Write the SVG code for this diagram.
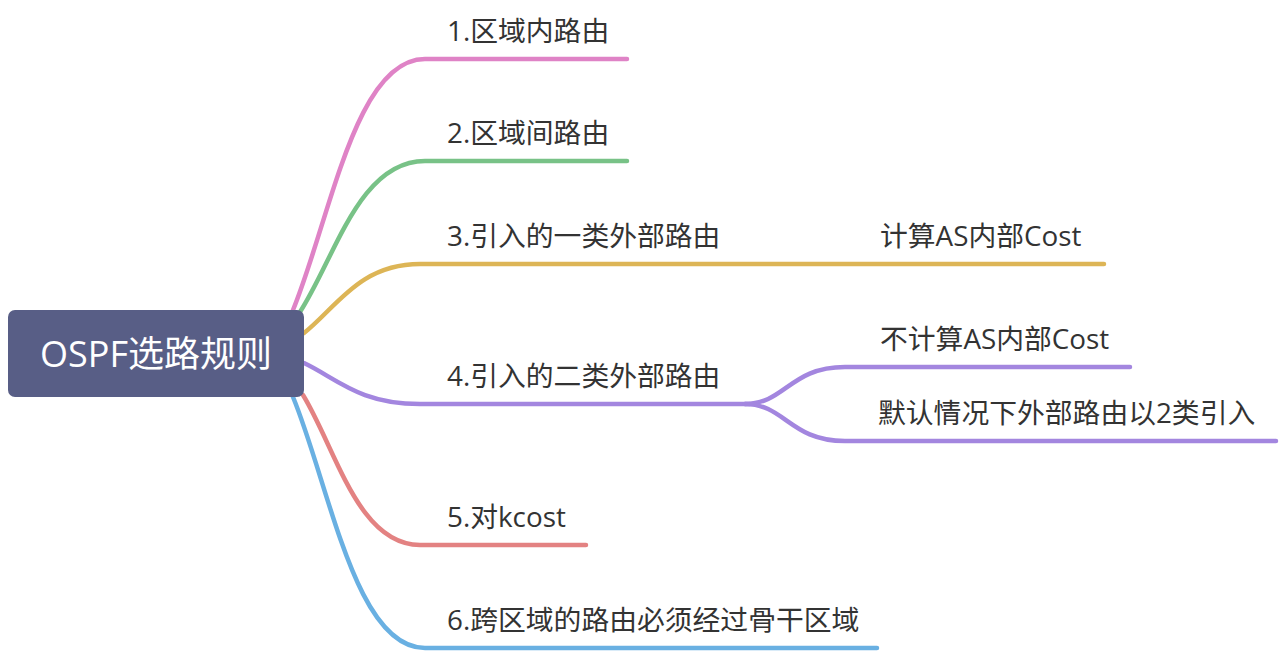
<svg xmlns="http://www.w3.org/2000/svg" width="1282" height="652" viewBox="0 0 1282 652">
<style>
.t{font-family:"Open Sans","Noto Sans CJK SC",sans-serif;font-size:27.8px;fill:#333333}
.r{font-family:"Open Sans","Noto Sans CJK SC",sans-serif;font-size:36px;fill:#ffffff;text-anchor:middle}
.c{fill:none;stroke-width:4.5;stroke-linecap:round;stroke-linejoin:round}
</style>
<rect width="1282" height="652" fill="#ffffff"/>
<g id="connectors">
<path class="c" stroke="#DF83C6" d="M293,310 C330,220 355,59 425,59 L627,59"/>
<path class="c" stroke="#78C287" d="M300,312 C335,258 359,161 425,161 L627,161"/>
<path class="c" stroke="#DDB556" d="M304,333 C336,308 359,264 420,264 L1104,264"/>
<path class="c" stroke="#A386DF" d="M304,363 C336,378 359,404 420,404 L750,404"/>
<path class="c" stroke="#A386DF" d="M745,404 C785,404 790,367 845,367 L1130,367"/>
<path class="c" stroke="#A386DF" d="M745,404 C785,404 790,441 845,441 L1276,441"/>
<path class="c" stroke="#E38282" d="M303,395 C336,449 358,545 420,545 L586,545"/>
<path class="c" stroke="#69B0E2" d="M293,397 C330,487 355,648 425,648 L877,648"/>
</g>
<g id="root">
<rect x="8" y="310" width="296" height="87" rx="7" ry="7" fill="#585E86"/>
<text class="r" x="156" y="367">OSPF选路规则</text>
</g>
<g id="n1"><text class="t" x="447" y="41">1.区域内路由</text></g>
<g id="n2"><text class="t" x="447" y="143">2.区域间路由</text></g>
<g id="n3"><text class="t" x="447" y="246">3.引入的一类外部路由</text></g>
<g id="n3a"><text class="t" x="880" y="246">计算AS内部Cost</text></g>
<g id="n4"><text class="t" x="447" y="386">4.引入的二类外部路由</text></g>
<g id="n4a"><text class="t" x="880" y="349">不计算AS内部Cost</text></g>
<g id="n4b"><text class="t" x="878" y="423">默认情况下外部路由以2类引入</text></g>
<g id="n5"><text class="t" x="447" y="527">5.对kcost</text></g>
<g id="n6"><text class="t" x="447" y="630">6.跨区域的路由必须经过骨干区域</text></g>
</svg>
